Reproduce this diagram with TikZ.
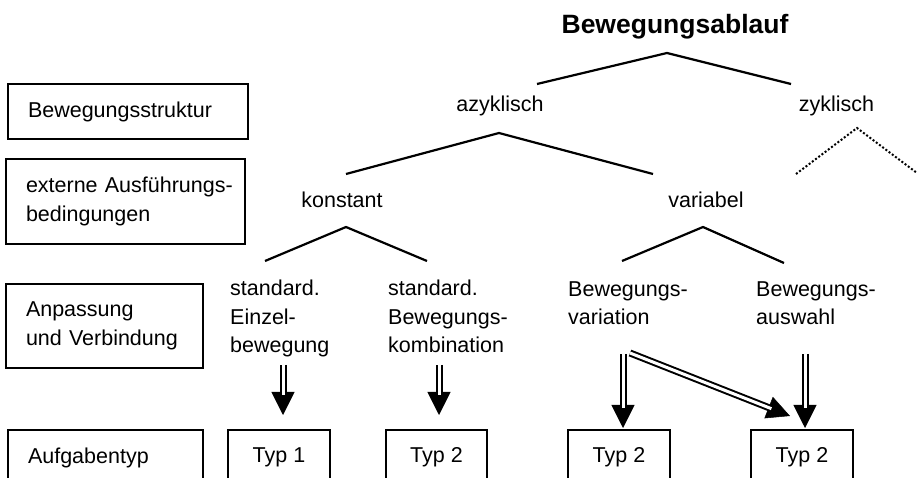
\documentclass[tikz,border=0pt]{standalone}
\usepackage{fontspec}
\setmainfont{Liberation Sans}
\usetikzlibrary{arrows.meta}
\begin{document}
\begin{tikzpicture}[x=1pt,y=-1pt,
  every node/.style={font=\fontsize{21.5}{28.5}\selectfont},
  lvlbox/.style={draw, line width=2pt, align=left, inner xsep=20pt, inner ysep=0pt},
  typbox/.style={draw, line width=2pt, minimum width=102pt, minimum height=55pt, inner sep=0pt},
  branch/.style={line width=2.2pt},
  openbranch/.style={line width=2pt, dash pattern=on 2pt off 2pt},
  term/.style={anchor=base, inner sep=0pt},
  leaf/.style={anchor=base west, align=left, inner sep=0pt},
  shaft/.style={line width=2pt, double, double distance=3pt, shorten >=20pt},
  head/.style={line width=0.5pt, -{Triangle[length=23pt,width=23pt]}}
]
\useasboundingbox (0,0) rectangle (919,478);
\clip (0,0) rectangle (919,478);

% level boxes on the left
\node[lvlbox, text width=200pt, minimum height=55pt] (struct) at (128,111.5) {Bewegungsstruktur};
\node[lvlbox, text width=199pt, minimum height=85pt] (extern) at (125.5,201.5) {\mbox{externe Ausführungs-}\\bedingungen};
\node[lvlbox, text width=157pt, minimum height=84pt] (anpass) at (104.5,326) {Anpassung\\und Verbindung};
\node[lvlbox, text width=155pt, minimum height=55pt] (aufgabe) at (105.5,457.5) {Aufgabentyp};

% tree labels
\node[term, font=\bfseries\fontsize{26.5}{30}\selectfont] (root) at (675,34) {Bewegungsablauf};
\node[term] (azyk) at (500,112) {azyklisch};
\node[term] (zyk) at (836.5,112) {zyklisch};
\node[term] (konst) at (342,208) {konstant};
\node[term] (var) at (706,208) {variabel};

\node[leaf] (einzel) at (230,353) {standard.\\Einzel-\\bewegung};
\node[leaf] (kombi) at (388,353) {standard.\\Bewegungs-\\kombination};
\node[leaf] (variation) at (568,325) {Bewegungs-\\variation};
\node[leaf] (auswahl) at (756,325) {Bewegungs-\\auswahl};

% task type boxes
\node[typbox] (typ1) at (279,457.5) {Typ 1};
\node[typbox, minimum width=101pt] (typ2a) at (436.5,457.5) {Typ 2};
\node[typbox] (typ2b) at (619,457.5) {Typ 2};
\node[typbox] (typ2c) at (802,457.5) {Typ 2};

% branch points
\coordinate (r0) at (667,53);  \coordinate (r1) at (537,84);  \coordinate (r2) at (791,84);
\coordinate (a0) at (499,133); \coordinate (a1) at (346,174); \coordinate (a2) at (653,174);
\coordinate (z0) at (857,128); \coordinate (z1) at (796,174); \coordinate (z2) at (917,173);
\coordinate (k0) at (346,227); \coordinate (k1) at (265,261); \coordinate (k2) at (427,261);
\coordinate (v0) at (703,227); \coordinate (v1) at (622,261); \coordinate (v2) at (784,263);

\draw[branch] (r1) -- (r0) -- (r2);
\draw[branch] (a1) -- (a0) -- (a2);
\draw[openbranch] (z1) -- (z0) -- (z2);
\draw[branch] (k1) -- (k0) -- (k2);
\draw[branch] (v1) -- (v0) -- (v2);

% arrow ends
\coordinate (e1s) at (283,365); \coordinate (e1t) at (283,415);
\coordinate (e2s) at (439,365); \coordinate (e2t) at (439,415);
\coordinate (e3s) at (623,354); \coordinate (e3t) at (623,428);
\coordinate (e4s) at (805,354); \coordinate (e4t) at (805,428);
\coordinate (e5s) at (630,353); \coordinate (e5t) at (790,416);

\foreach \s/\t in {e1s/e1t, e2s/e2t, e3s/e3t, e4s/e4t, e5s/e5t}{
  \draw[head] (\s) -- (\t);
  \draw[shaft] (\s) -- (\t);
}
\end{tikzpicture}
\end{document}
